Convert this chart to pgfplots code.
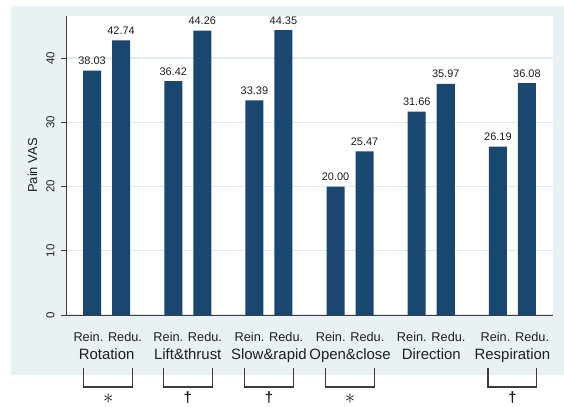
\documentclass[border=0pt]{standalone}
\usepackage{fontspec}
\setmainfont{Liberation Sans}
\usepackage{pgfplots}
\pgfplotsset{compat=1.18}
\definecolor{navy}{RGB}{26,71,111}
\definecolor{bgl}{RGB}{234,241,244}
\definecolor{gridc}{RGB}{224,233,238}
\definecolor{axc}{RGB}{60,60,60}
\definecolor{txt}{RGB}{30,30,30}
\begin{document}
\begin{tikzpicture}
\path[use as bounding box] (0bp,0bp) rectangle (564bp,407bp);
\fill[bgl] (11bp,32bp) rectangle (564bp,401bp);
\begin{axis}[
  at={(66bp,92bp)}, anchor=south west,
  scale only axis, width=487bp, height=299bp,
  xmin=0, xmax=6, ymin=0, ymax=46.54,
  clip=false,
  axis background/.style={fill=white},
  axis x line*=bottom, axis y line*=left,
  axis line style={axc, line width=1bp},
  tick align=outside, major tick length=5bp,
  ytick={0,10,20,30,40},
  ytick style={axc, line width=1bp},
  xtick={0.515,1.5,2.5,3.5,4.5,5.53},
  xticklabels={Rein. Redu.,Rein. Redu.,Rein. Redu.,Rein. Redu.,Rein. Redu.,Rein. Redu.},
  xtick style={draw=none},
  xticklabel style={anchor=base, yshift=-21bp, font=\fontsize{12.8}{12.8}\selectfont, text=txt},
  yticklabel shift=3bp,
  yticklabel style={rotate=90, anchor=south, font=\fontsize{11.5}{11.5}\selectfont, text=txt},
  /pgf/number format/assume math mode=true,
  ymajorgrids, grid style={gridc, line width=1.3bp},
  ylabel={Pain VAS},
  ylabel style={font=\fontsize{13}{13}\selectfont, text=txt, at={(axis description cs:-0.069,0.5)}, anchor=center},
  ybar, bar width=18bp,
  nodes near coords={\pgfmathprintnumber[fixed,fixed zerofill,precision=2,assume math mode=true]{\pgfplotspointmeta}},
  every node near coord/.append style={font=\fontsize{11}{11}\selectfont, text=txt, anchor=base, yshift=6bp},
]
% Rein.
\addplot[fill=navy, draw=none, bar shift=-14.5bp] coordinates {
  (0.5,38.03) (1.5,36.42) (2.5,33.39) (3.5,20.00) (4.5,31.66) (5.5,26.19)};
% Redu.
\addplot[fill=navy, draw=none, bar shift=14.5bp] coordinates {
  (0.5,42.74) (1.5,44.26) (2.5,44.35) (3.5,25.47) (4.5,35.97) (5.5,36.08)};
% group labels
\begin{scope}[every node/.style={anchor=base, font=\fontsize{15}{15}\selectfont, text=txt}]
\node at (axis cs:0.5,-6.85) {Rotation};
\node at (axis cs:1.5,-6.85) {Lift\&thrust};
\node at (axis cs:2.5,-6.85) {Slow\&rapid};
\node at (axis cs:3.5,-6.85) {Open\&close};
\node at (axis cs:4.5,-6.85) {Direction};
\node at (axis cs:5.5,-6.85) {Respiration};
\end{scope}
% brackets
\begin{scope}[axc, line width=1.2bp]
\draw (axis cs:0.22,-8.25) -- (axis cs:0.22,-11.2) -- (axis cs:0.82,-11.2) -- (axis cs:0.82,-8.25);
\draw (axis cs:1.2,-8.25) -- (axis cs:1.2,-11.2) -- (axis cs:1.8,-11.2) -- (axis cs:1.8,-8.25);
\draw (axis cs:2.2,-8.25) -- (axis cs:2.2,-11.2) -- (axis cs:2.8,-11.2) -- (axis cs:2.8,-8.25);
\draw (axis cs:3.2,-8.25) -- (axis cs:3.2,-11.2) -- (axis cs:3.8,-11.2) -- (axis cs:3.8,-8.25);
\draw (axis cs:5.2,-8.25) -- (axis cs:5.2,-11.2) -- (axis cs:5.8,-11.2) -- (axis cs:5.8,-8.25);
\end{scope}
% significance symbols
\begin{scope}[every node/.style={anchor=base, text=txt, inner sep=0pt}]
\node[font=\fontsize{20}{20}\selectfont] at (axis cs:0.52,-13.85) {$\ast$};
\node[font=\fontsize{20}{20}\selectfont] at (axis cs:3.5,-13.85) {$\ast$};
\node[font=\bfseries\fontsize{15}{15}\selectfont] at (axis cs:1.5,-13.6) {†};
\node[font=\bfseries\fontsize{15}{15}\selectfont] at (axis cs:2.5,-13.6) {†};
\node[font=\bfseries\fontsize{15}{15}\selectfont] at (axis cs:5.5,-13.6) {†};
\end{scope}
\end{axis}
\end{tikzpicture}
\end{document}
